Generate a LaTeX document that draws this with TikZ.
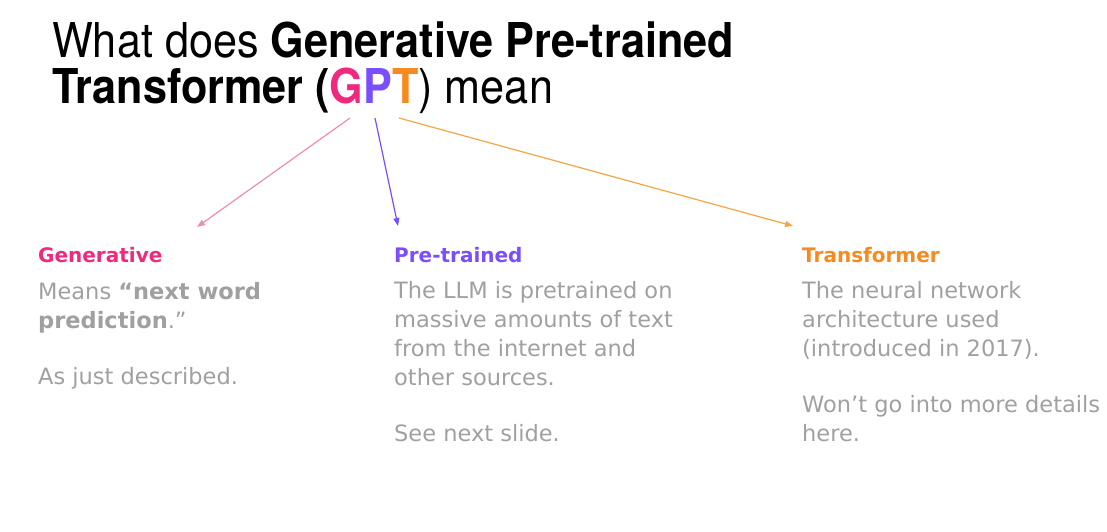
\documentclass[tikz,border=0pt]{standalone}
\usepackage{fontspec}
\usepackage{graphicx}
\setmainfont{TeX Gyre Heros}
\newfontfamily\bodyfont{DejaVu Sans}
\usetikzlibrary{arrows.meta,positioning}
\definecolor{gptpink}{RGB}{240,40,126}
\definecolor{gptpurple}{RGB}{122,77,255}
\definecolor{gptorange}{RGB}{246,138,30}
\definecolor{arrowpink}{RGB}{240,140,176}
\definecolor{arroworange}{RGB}{245,165,70}
\definecolor{bodygray}{RGB}{160,160,160}
\newcommand{\narrow}[1]{\scalebox{0.9}[1]{#1}}
\tikzset{
  heading/.style={anchor=base west, inner sep=0pt, font=\bodyfont\bfseries\fontsize{20}{24}\selectfont},
  bodytext/.style={anchor=base west, inner sep=0pt, align=left, text=bodygray,
    font=\bodyfont\fontsize{22.5}{29}\selectfont},
  pointer/.style={-{Triangle[length=8pt,width=6pt]}, line width=1.2pt}
}
\begin{document}
\begin{tikzpicture}[x=1pt, y=1pt]
\useasboundingbox (0,0) rectangle (1107,-531);

% ============ TITLE (base anchor sits on the last line) ============
\node[anchor=base west, inner sep=0pt, align=left, font=\fontsize{48}{46}\selectfont] (title) at (52,-103)
  {\narrow{What does \textbf{Generative Pre-trained}}\\
   \narrow{\textbf{Transformer (}\textbf{\textcolor{gptpink}{G}\textcolor{gptpurple}{P}\textcolor{gptorange}{T}}) mean}};

% arrow start points below the GPT letters
\coordinate (fromG) at (350,-118);
\coordinate (fromP) at (375,-118);
\coordinate (fromT) at (399,-118);

% ============ COLUMN 1: Generative ============
\node[heading, text=gptpink] (genhead) at (38,-262) {Generative};
\node[bodytext] (genbody) at (38,-384)
  {Means \textbf{\char"201C next word}\\\textbf{prediction}.\char"201D\\[27pt]As just described.};
\coordinate (toG) at (197,-227);

% ============ COLUMN 2: Pre-trained ============
\node[heading, text=gptpurple] (prehead) at (394,-262) {Pre-trained};
\node[bodytext] (prebody) at (394,-441)
  {The LLM is pretrained on\\massive amounts of text\\from the internet and\\other sources.\\[27pt]See next slide.};
\coordinate (toP) at (398,-226);

% ============ COLUMN 3: Transformer ============
\node[heading, text=gptorange] (trfhead) at (802,-262) {Transformer};
\node[bodytext] (trfbody) at (802,-441)
  {The neural network\\architecture used\\(introduced in 2017).\\[27pt]Won\char"2019 t go into more details\\here.};
\coordinate (toT) at (793,-226);

% ============ POINTERS ============
\draw[pointer, arrowpink] (fromG) -- (toG);
\draw[pointer, gptpurple] (fromP) -- (toP);
\draw[pointer, arroworange] (fromT) -- (toT);
\end{tikzpicture}
\end{document}
